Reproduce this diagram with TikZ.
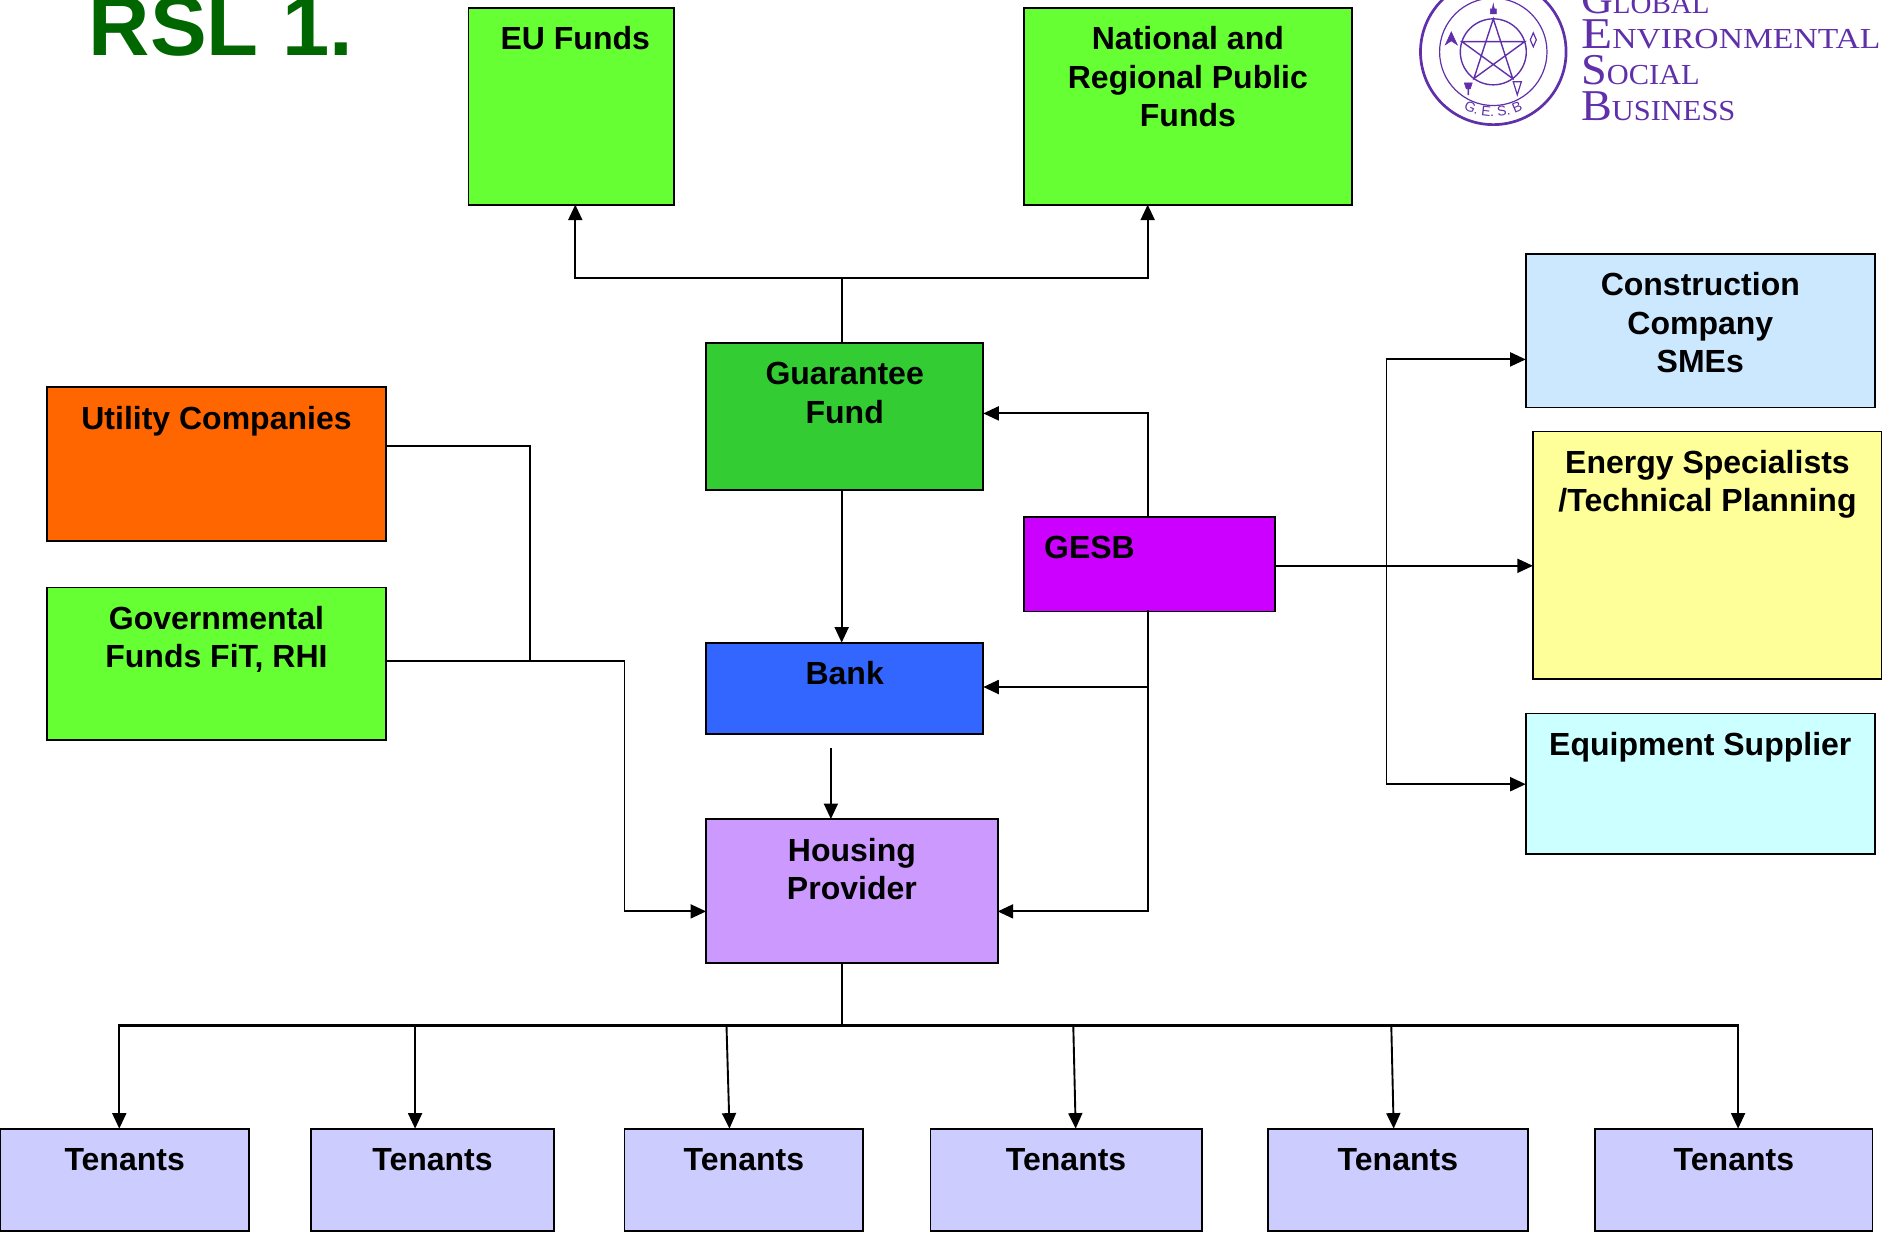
\documentclass[tikz,border=0pt]{standalone}
\usepackage{fontspec}
\usepackage{graphicx}
\setmainfont{Liberation Sans}
\newfontfamily\logofont{Liberation Serif}
\usetikzlibrary{arrows.meta,decorations.text}
\definecolor{title}{RGB}{0,102,0}
\definecolor{lp}{RGB}{96,48,170}
\definecolor{lime}{RGB}{102,255,51}
\definecolor{gfc}{RGB}{51,204,51}
\definecolor{bankc}{RGB}{51,102,255}
\definecolor{hpc}{RGB}{204,153,255}
\definecolor{gesbc}{RGB}{204,0,255}
\definecolor{utilc}{RGB}{255,102,0}
\definecolor{conc}{RGB}{204,232,255}
\definecolor{engc}{RGB}{255,255,153}
\definecolor{eqc}{RGB}{204,255,255}
\definecolor{tenc}{RGB}{204,204,255}
\tikzset{
  boxnode/.style={draw=black,line width=1.8pt,inner sep=0pt,outer sep=0pt,font=\bfseries},
  wire/.style={draw=black,line width=1.9pt},
  busline/.style={draw=black,line width=2.2pt},
  arr/.style={wire,-{Triangle[length=15.5pt,width=14pt]}},
  logotext/.style={anchor=base west,inner sep=0pt,text=lp},
  logoline/.style={draw=lp},
  logosym/.style={fill=lp,draw=lp,line width=.6pt}
}
% name, x0,y0,x1,y1, fill, text shift, text
\newcommand{\mybox}[8]{%
  \pgfmathsetlengthmacro\bw{(#4-#2)*1.2}%
  \pgfmathsetlengthmacro\bh{(#5-#3)*1.2}%
  \pgfmathsetlengthmacro\bs{2.4*#7}%
  \node[boxnode,fill=#6] (#1) at ({(#2+#4)/2},{(#3+#5)/2})
    {\parbox[c][\bh][t]{\bw}{\fontsize{32}{38.4}\selectfont\centering\leftskip=\bs plus 1fil\relax\rule{0pt}{42pt}#8}};%
}
\newcommand{\lgword}[3]{\scalebox{#1}[1]{{\fontsize{44}{44}\selectfont #2}{\fontsize{29}{29}\selectfont #3}}}
\begin{document}
\begin{tikzpicture}[x=1.2pt,y=-1.2pt]
\useasboundingbox (-0.4,-0.5) rectangle (1567.93,1026.17);
\node[anchor=base west,inner sep=0pt,text=title,font=\bfseries\fontsize{85}{85}\selectfont] (ttl) at (73.5,45.5) {RSL 1.};

\mybox{eu}{390}{6}{561}{170}{lime}{3.5}{EU Funds}
\mybox{nat}{853}{6}{1126}{170}{lime}{0}{National and\\Regional Public\\Funds}
\mybox{gf}{588}{285}{819}{408}{gfc}{0}{Guarantee\\Fund}
\mybox{bank}{588}{535}{819}{611}{bankc}{0}{Bank}
\mybox{hp}{588}{682}{831}{802}{hpc}{0}{Housing\\Provider}
\mybox{gesb}{853}{430}{1062}{509}{gesbc}{-50}{GESB}
\mybox{util}{39}{322}{321}{450}{utilc}{0}{Utility Companies}
\mybox{gov}{39}{489}{321}{616}{lime}{0}{Governmental\\Funds FiT, RHI}
\mybox{con}{1271}{211}{1562}{339}{conc}{0}{Construction\\Company\\SMEs}
\mybox{eng}{1277}{359}{1568}{565}{engc}{0}{Energy Specialists\\/Technical Planning}
\mybox{eq}{1271}{594}{1562}{711}{eqc}{0}{Equipment Supplier}
\mybox{t1}{0}{940}{207}{1025}{tenc}{0}{Tenants}
\mybox{t2}{259}{940}{461}{1025}{tenc}{0}{Tenants}
\mybox{t3}{520}{940}{719}{1025}{tenc}{0}{Tenants}
\mybox{t4}{775}{940}{1001}{1025}{tenc}{0}{Tenants}
\mybox{t5}{1056}{940}{1273}{1025}{tenc}{0}{Tenants}
\mybox{t6}{1329}{940}{1560}{1025}{tenc}{0}{Tenants}

% junctions and free ends
\coordinate (jtop) at (701,231);
\coordinate (jright) at (1155,471);
\coordinate (jleft) at (441,550);
\coordinate (jbus) at (701,854);
\coordinate (busl) at (99,854);
\coordinate (busr) at (1448,854);
\coordinate (jgesb) at (956,572);
\coordinate (g1) at (956,344);
\coordinate (g2) at (956,759);
\coordinate (r1) at (1155,299);
\coordinate (r2) at (1155,653);
\coordinate (u1) at (441,371);
\coordinate (h1) at (520,759);
\coordinate (bankout) at (692,623);
\coordinate (b2) at (345.5,854);
\coordinate (b3) at (605,854);
\coordinate (b4) at (894,854);
\coordinate (b5) at (1159,854);
\coordinate (a3) at (607.5,940);
\coordinate (a4) at (896,940);
\coordinate (a5) at (1161,940);

% top funds
\draw[wire] (jtop |- gf.north) -- (jtop);
\draw[arr] (jtop) -| ([xshift=4.2pt]eu.south);
\draw[arr] (jtop) -| ([xshift=-40.2pt]nat.south);
% GESB
\draw[wire,line cap=rect] (g1 |- gesb.north) -- (g1);
\draw[arr] (g1) -- (g1 -| gf.east);
\draw[wire,line cap=rect] (g1 |- gesb.south) -- (g2);
\draw[arr] (g2) -- (g2 -| hp.east);
\draw[arr] (jgesb) -- (jgesb -| bank.east);
\draw[arr] (jright -| gesb.east) -- (jright -| eng.west);
\draw[wire,line cap=rect] (r1) -- (r2);
\draw[arr] (r1) -- (r1 -| con.west);
\draw[arr] (r2) -- (r2 -| eq.west);
% left side
\draw[wire] (u1 -| util.east) -- (u1) -- (jleft);
\draw[arr] (jleft -| gov.east) -- (h1 |- jleft) -- (h1) -- (h1 -| hp.west);
% centre column
\draw[arr] (jtop |- gf.south) -- (jtop |- bank.north);
\draw[arr] (bankout) -- (bankout |- hp.north);
% tenants
\draw[wire] (jtop |- hp.south) -- (jbus);
\draw[busline,line cap=rect] (busl) -- (busr);
\draw[arr] (busl) -- (busl |- t1.north);
\draw[arr] (b2) -- (b2 |- t2.north);
\draw[arr] (b3) -- (a3);
\draw[arr] (b4) -- (a4);
\draw[arr] (b5) -- (a5);
\draw[arr] (busr) -- (busr |- t6.north);

% logo
\node[logotext,font=\logofont] (lg1) at (1317,11) {\lgword{1}{G}{LOBAL}};
\node[logotext,font=\logofont] (lg2) at (1317,39.5) {\lgword{1.16}{E}{NVIRONMENTAL}};
\node[logotext,font=\logofont] (lg3) at (1317,69.5) {\lgword{1.05}{S}{OCIAL}};
\node[logotext,font=\logofont] (lg4) at (1317,99.5) {\lgword{1.05}{B}{USINESS}};
\begin{scope}[shift={(1244,42.7)},x=1pt,y=1pt]
  \draw[logoline,line width=2.7pt] (0,0) circle (72.8);
  \draw[logoline,line width=1.2pt] (0,0) circle (53.7);
  \draw[logoline,line width=1.4pt] (0,0) circle (33);
  \draw[logoline,line width=1.4pt,line join=miter] (90:33) -- (234:33) -- (18:33) -- (162:33) -- (306:33) -- cycle;
  % small symbols
  \fill[logosym] (-3,38) rectangle (3,43) (-1,43) -- (1,43) -- (0,48) -- cycle;
  \fill[logosym] (-48,7) -- (-42,20) -- (-36,7) -- (-42,11) -- cycle;
  \draw[logoline,line width=1.2pt] (40,19) -- (43,12) -- (40,5) -- (37,12) -- cycle;
  \fill[logosym] (-29,-31) -- (-21,-31) -- (-23,-37) -- (-27,-37) -- cycle (-25.5,-37) rectangle (-24.5,-43);
  \draw[logoline,line width=1.2pt] (20,-30) -- (28,-30) -- (24,-43) -- cycle;
  \path[decorate,decoration={text along path,text align=center,
    text={|\fontsize{14}{14}\selectfont\color{lp}|G. E. S. B}}]
    (235:65) arc (235:305:65);
\end{scope}
\end{tikzpicture}
\end{document}
